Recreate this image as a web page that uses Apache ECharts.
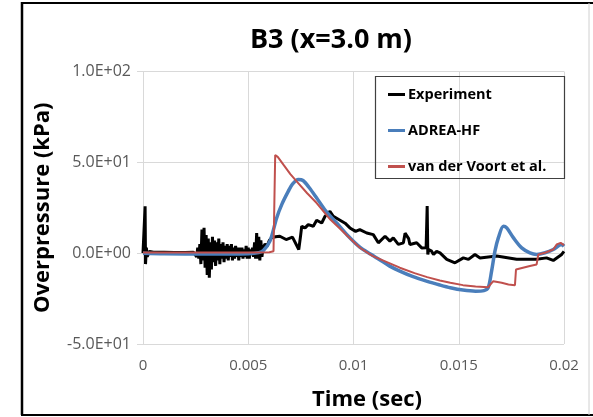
<!DOCTYPE html>
<html>
<head>
<meta charset="utf-8">
<script src="https://cdn.jsdelivr.net/npm/echarts@6/dist/echarts.min.js"></script>
<style>
html,body{margin:0;padding:0;background:#fff;}
#c{width:593px;height:417px;}
</style>
</head>
<body>
<div id="c"></div>
<script>
var titleText = 'B3 (x=3.0 m)';
var xTitle = 'Time (sec)';
var yTitle = 'Overpressure (kPa)';
var seriesNames = ['Experiment', 'ADREA-HF', 'van der Voort et al.'];
var seriesColors = ['#000000', '#4a7ebb', '#c0504d'];
var xTicks = [0, 0.005, 0.01, 0.015, 0.02];
var yTicks = [-50, 0, 50, 100];

var experiment = [
[0,0],[0.00005,1],[0.0001,25.8],[0.00012,-6],[0.00016,3],[0.0002,-2],[0.0003,1],[0.0005,0.5],[0.001,0.5],[0.0015,0.3],[0.002,0.4],[0.0024,0.5],
[0.00255,-2],[0.0026,3],[0.00265,-3],[0.0027,5],[0.00275,-6],[0.0028,13],[0.00285,-4],[0.0029,14],[0.00295,-8],[0.003,10],[0.00305,-12],[0.0031,8],[0.00315,-13.5],[0.0032,6],[0.00325,-9],[0.0033,9],[0.00335,-5],[0.0034,7],[0.00345,-7],[0.0035,6],[0.00355,-4],[0.0036,8],[0.00365,-6],[0.0037,5],[0.00375,-3],[0.0038,6],[0.00385,-5],[0.0039,4],[0.00395,-3],[0.004,5],[0.00405,-4],[0.0041,4],[0.00415,-2],[0.0042,5],[0.00425,-4],[0.0043,3],[0.00435,-3],[0.0044,4],[0.00445,-2],[0.0045,3],[0.00455,-4],[0.0046,3],[0.00465,-2],[0.0047,3],[0.00475,-3],[0.0048,2],[0.00485,-2],[0.0049,4],[0.00495,-3],[0.005,3],[0.00505,-3],[0.0051,2],[0.00515,-1],[0.0052,3],[0.00525,-2],[0.0053,6],[0.00535,-3],[0.0054,11],[0.00545,-3],[0.0055,9],[0.00555,-4],[0.0056,7],[0.00565,-2],[0.0057,3],[0.0058,5],[0.0059,4],[0.006,7],[0.0061,8.4],[0.0063,9],[0.0065,9.3],[0.0068,7.5],[0.0071,8.8],[0.0074,2],[0.00748,9],[0.00754,14.8],[0.0077,13.9],[0.00785,15.7],[0.00809,14.8],[0.00825,18.1],[0.00849,16.6],[0.00865,20.3],[0.00888,23],[0.00904,20.3],[0.00944,17.6],[0.0096,16.5],[0.00983,13.9],[0.0101,12],[0.0103,13],[0.01063,11.1],[0.01094,10.2],[0.01118,5.7],[0.0115,9.3],[0.01173,6.6],[0.01189,8.4],[0.01213,4.8],[0.01237,5.7],[0.01245,11],[0.01253,12.1],[0.01262,8],[0.01268,4.8],[0.013,5.7],[0.01324,2.9],[0.01345,3],[0.0135,26],[0.01353,-0.7],[0.01357,2],[0.01371,1.1],[0.0138,-0.7],[0.01395,1],[0.01411,0.2],[0.01443,-3.4],[0.01482,-5.3],[0.01522,-2.6],[0.01546,-3.4],[0.01577,-0.7],[0.01601,-2.6],[0.0168,-1.6],[0.01775,-3.4],[0.0187,-3.4],[0.01917,-2.6],[0.01949,-4],[0.01989,-0.7],[0.02,1]
];

var adrea = [
[0,0],[0.001,-0.3],[0.003,-0.5],[0.005,-0.3],[0.0055,0.3],[0.00572,1.5],[0.00603,6.6],[0.00635,19.4],[0.0066,27],[0.0069,34],[0.0071,38],[0.00738,40.5],[0.0076,40],[0.0079,36],[0.00825,30.4],[0.0087,23],[0.0092,16.6],[0.0097,10],[0.0103,3.3],[0.0108,-0.5],[0.0113,-4],[0.0117,-7],[0.0122,-9.9],[0.0128,-12.8],[0.0135,-15.5],[0.0141,-17.5],[0.0146,-19],[0.0152,-20.3],[0.0158,-20.9],[0.0162,-20.6],[0.0164,-19],[0.01656,-9.9],[0.01672,1.1],[0.01688,8.4],[0.01712,14.8],[0.01728,13.9],[0.0176,8.4],[0.01799,2.9],[0.01838,0.2],[0.0187,-0.7],[0.0191,0.2],[0.01949,2],[0.01989,4.8],[0.02,3.8]
];

var voort = [
[0,0.3],[0.002,0.3],[0.005,0.3],[0.006,0.5],[0.0062,1],[0.00624,1],[0.00628,54],[0.0064,53],[0.00667,48.7],[0.007,43.5],[0.0073,39.5],[0.0078,33],[0.00825,27.6],[0.0089,18.5],[0.0094,13],[0.0098,8.5],[0.0103,3],[0.0109,-1.5],[0.0117,-5.5],[0.0122,-8],[0.0129,-11],[0.0135,-13.2],[0.0141,-15],[0.0146,-16.3],[0.0152,-17.6],[0.0158,-18.3],[0.0164,-18.7],[0.01664,-15.4],[0.01704,-16.3],[0.01736,-17.2],[0.01767,-17.6],[0.01772,-9],[0.01838,-7.1],[0.0187,-6.2],[0.01878,-0.7],[0.0191,0.2],[0.01949,2],[0.01965,4.8],[0.01984,5.7],[0.02,4.4]
];

function sci(v){
  if (v === 0) return '0.0E+00';
  var e = Math.floor(Math.log10(Math.abs(v)) + 1e-9);
  var m = v / Math.pow(10, e);
  var es = (e >= 0 ? '+' : '-') + (Math.abs(e) < 10 ? '0' : '') + Math.abs(e);
  return m.toFixed(1) + 'E' + es;
}

var FONT = 'Open Sans';
var chart = echarts.init(document.getElementById('c'), null, {renderer: 'canvas'});
chart.setOption({
  backgroundColor: '#fff',
  animation: false,
  grid: {left: 143, top: 71.5, right: 29, bottom: 73, containLabel: false},
  xAxis: {
    type: 'value', min: xTicks[0], max: xTicks[xTicks.length - 1], interval: 0.005,
    axisLine: {show: true, onZero: true, lineStyle: {color: '#d9d9d9', width: 1}},
    axisTick: {show: false},
    axisLabel: {color: '#595959', fontSize: 15, fontFamily: FONT, margin: 14,
      formatter: function (v) { return v === 0 ? '0' : String(+v.toFixed(3)); }},
    splitLine: {show: true, lineStyle: {color: '#d9d9d9', width: 1}}
  },
  yAxis: {
    type: 'value', min: yTicks[0], max: yTicks[yTicks.length - 1], interval: 50,
    axisLine: {show: false},
    axisTick: {show: true, length: 6, lineStyle: {color: '#d9d9d9'}},
    axisLabel: {color: '#595959', fontSize: 16, fontFamily: FONT, margin: 12, formatter: sci},
    splitLine: {show: true, lineStyle: {color: '#d9d9d9', width: 1}},
    name: yTitle, nameLocation: 'middle', nameRotate: 90, nameGap: 89,
    nameTextStyle: {color: '#000', fontSize: 22, fontWeight: 'bold', fontFamily: FONT}
  },
  legend: {
    orient: 'vertical', left: 383, top: 82, itemWidth: 17, itemHeight: 3, itemGap: 21,
    icon: 'rect',
    data: seriesNames.map(function (n, i) { return {name: n, itemStyle: {color: seriesColors[i]}}; }),
    textStyle: {color: '#000', fontSize: 14.5, fontWeight: 'bold', fontFamily: FONT, padding: [0,0,0,-2], height: 14, lineHeight: 14}
  },
  graphic: [
    {type: 'rect', shape: {x: 375.5, y: 76.5, width: 189, height: 102}, style: {fill: 'none', stroke: '#404040', lineWidth: 1.2}, z: 1},
    {type: 'text', x: 331, y: 27, style: {text: titleText, fill: '#000', font: 'bold 27px "Open Sans"', textAlign: 'center'}},
    {type: 'text', left: 312, top: 389, style: {text: xTitle, fill: '#000', font: 'bold 22px "Open Sans"'}},
    {type: 'line', shape: {x1: 22, y1: 2, x2: 22, y2: 415}, style: {stroke: '#000', lineWidth: 2.5}},
    {type: 'line', shape: {x1: 21, y1: 3, x2: 593, y2: 3}, style: {stroke: '#000', lineWidth: 2}},
    {type: 'line', shape: {x1: 21, y1: 415, x2: 593, y2: 415}, style: {stroke: '#000', lineWidth: 2}},
    {type: 'line', shape: {x1: 589, y1: 3, x2: 589, y2: 415}, style: {stroke: '#d0d0d0', lineWidth: 1}}
  ],
  series: [
    {name: seriesNames[0], type: 'line', data: experiment, showSymbol: false, symbol: 'none', z: 3,
      lineStyle: {color: seriesColors[0], width: 3}, itemStyle: {color: seriesColors[0]}},
    {name: seriesNames[1], type: 'line', data: adrea, showSymbol: false, symbol: 'none', smooth: 0.3, z: 4,
      lineStyle: {color: seriesColors[1], width: 3.5}, itemStyle: {color: seriesColors[1]}},
    {name: seriesNames[2], type: 'line', data: voort, showSymbol: false, symbol: 'none', z: 5,
      lineStyle: {color: seriesColors[2], width: 2}, itemStyle: {color: seriesColors[2]}}
  ]
});
</script>
</body>
</html>
